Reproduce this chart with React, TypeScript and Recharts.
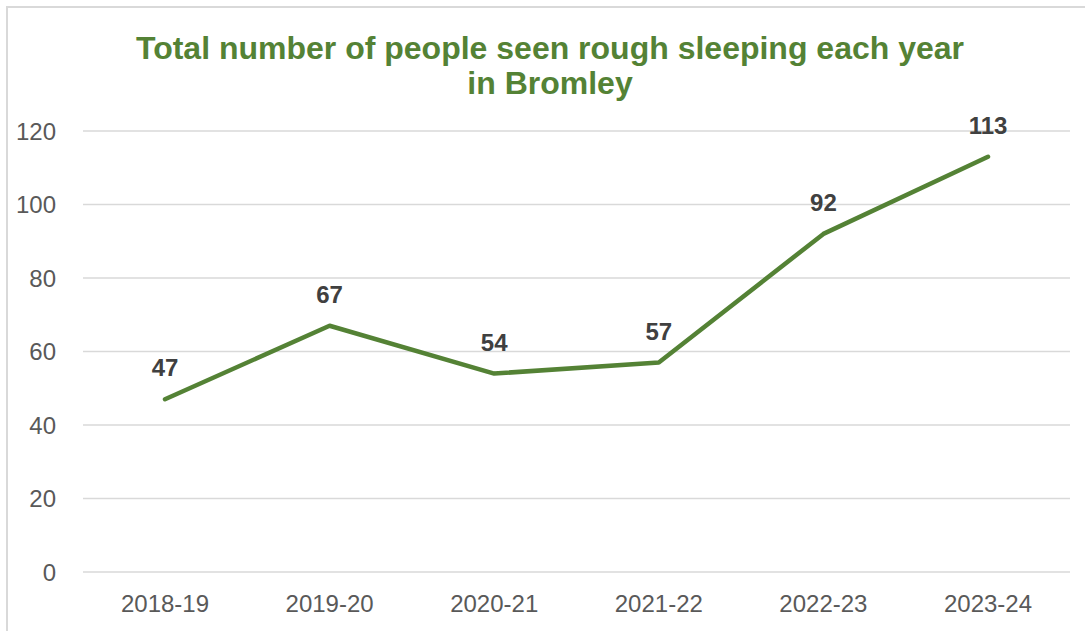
import React from 'react';
import { LineChart, Line, XAxis, YAxis, CartesianGrid, LabelList } from 'recharts';

const years = ['2018-19', '2019-20', '2020-21', '2021-22', '2022-23', '2023-24'];
const roughSleepers = [47, 67, 54, 57, 92, 113];
const yTicks = [0, 20, 40, 60, 80, 100, 120];

const GREEN = '#548235';
const FONT = '"Liberation Sans", Arial, Helvetica, sans-serif';

const data = years.map((year, i) => ({ year, value: roughSleepers[i] }));

const App: React.FC = () => {
  return (
    <div style={{ position: 'fixed', left: 0, top: 0, width: 1085, height: 631, background: '#fff', overflow: 'hidden', fontFamily: FONT }}>
      {/* frame round the chart, only top and left edges are in view */}
      <div style={{ position: 'absolute', left: 6, top: 6, width: 1100, height: 650, borderTop: '2px solid #d9d9d9', borderLeft: '2px solid #d9d9d9', boxSizing: 'border-box' }} />

      <div
        style={{
          position: 'absolute',
          left: 0,
          top: 31,
          width: 1100,
          textAlign: 'center',
          color: GREEN,
          fontWeight: 'bold',
          fontSize: 32,
          lineHeight: '35px',
        }}
      >
        Total number of people seen rough sleeping each year
        <br />
        in Bromley
      </div>

      <div style={{ position: 'absolute', left: 0, top: 0 }}>
        <LineChart width={1085} height={631} data={data} margin={{ top: 131, right: 15, left: 0, bottom: 0 }}>
          <CartesianGrid stroke="#d9d9d9" strokeWidth={1.5} vertical={false} />
          <XAxis
            dataKey="year"
            axisLine={false}
            tickLine={false}
            tickSize={0}
            tickMargin={23}
            height={59}
            padding={{ left: 82, right: 82 }}
            tick={{ fill: '#595959', fontSize: 24, fontFamily: FONT }}
          />
          <YAxis
            domain={[0, 120]}
            ticks={yTicks}
            axisLine={false}
            tickLine={false}
            tickSize={0}
            tickMargin={27}
            width={83}
            tick={{ fill: '#595959', fontSize: 24, fontFamily: FONT }}
          />
          <Line
            type="linear"
            dataKey="value"
            stroke={GREEN}
            strokeWidth={4.5}
            strokeLinecap="round"
            strokeLinejoin="round"
            dot={false}
            activeDot={false}
            isAnimationActive={false}
          >
            <LabelList
              dataKey="value"
              position="top"
              offset={23}
              fill="#404040"
              fontSize={24}
              fontWeight="bold"
              fontFamily={FONT}
            />
          </Line>
        </LineChart>
      </div>
    </div>
  );
};

export default App;
